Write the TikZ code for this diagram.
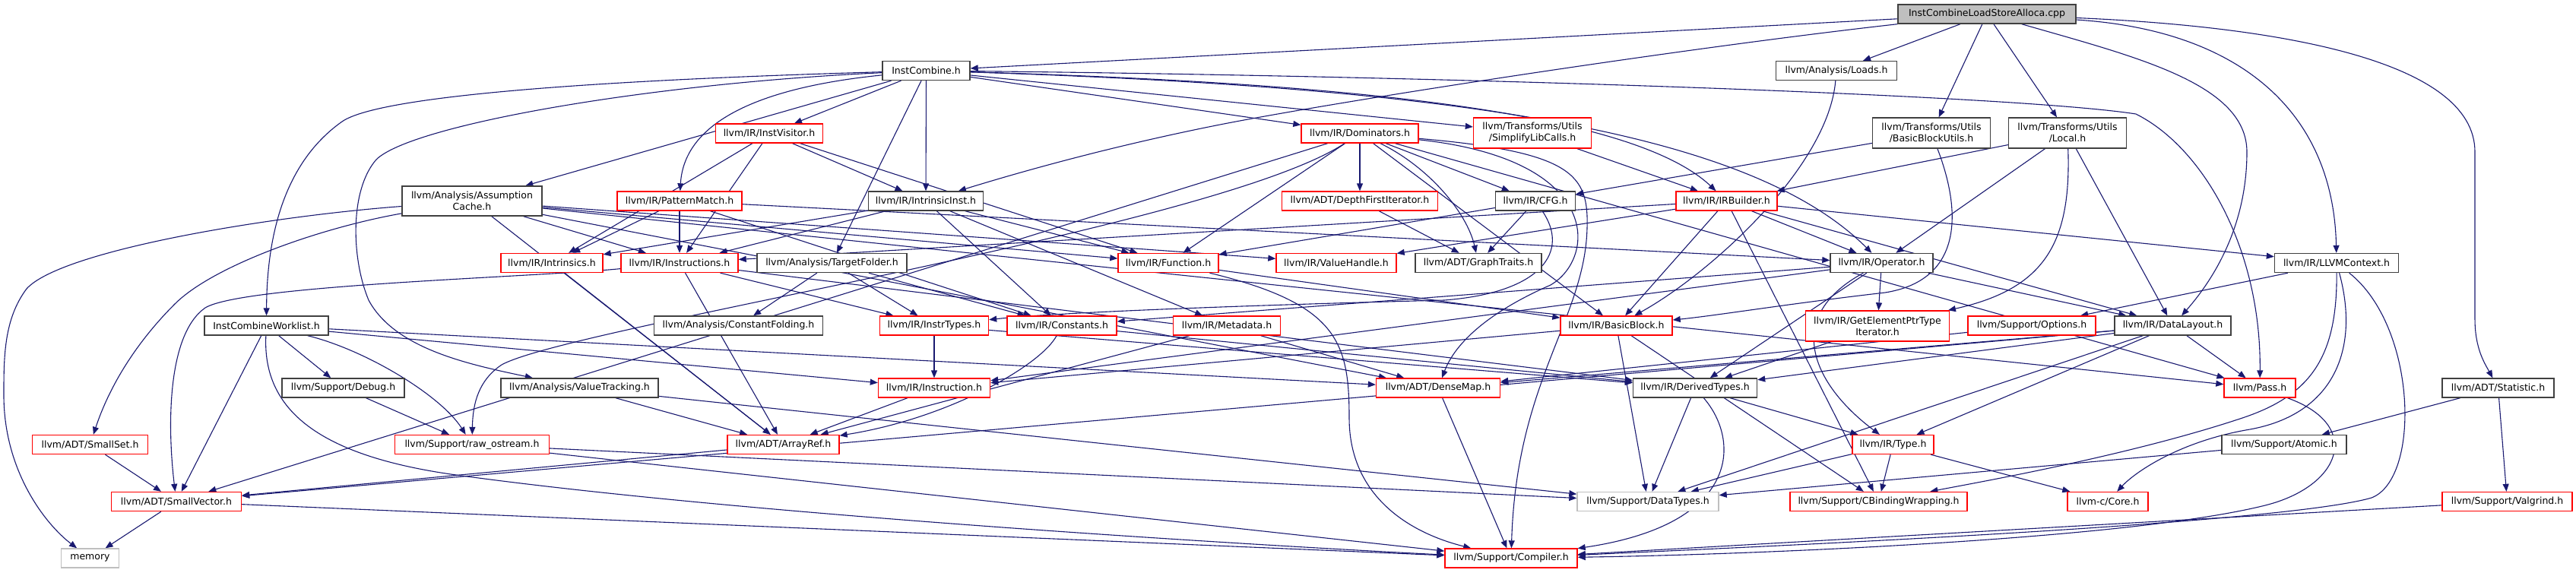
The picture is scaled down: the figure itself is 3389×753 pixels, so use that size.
\documentclass[tikz,border=0pt]{standalone}
\usepackage{fontspec}
\setmainfont{DejaVu Sans}
\usetikzlibrary{arrows.meta}
\definecolor{edgec}{HTML}{191970}
\definecolor{rd}{HTML}{FF0000}
\definecolor{blk}{HTML}{404040}
\definecolor{gry}{HTML}{BFBFBF}
\newcommand\nfont{\fontsize{12.5pt}{15pt}\selectfont}
\pgfdeclarelayer{bg}
\pgfsetlayers{bg,main}
\begin{document}
\begin{tikzpicture}[x=1pt,y=-1pt,
 nb/.style={draw=blk, line width=1.4pt, fill=white, minimum height=25pt, inner sep=0pt, font=\nfont},
 nr/.style={nb, draw=rd},
 ng/.style={nb, draw=gry},
 two/.style={minimum height=40pt, align=center},
 e/.style={draw=edgec, line width=1.1pt, -{Triangle[length=10pt,width=8pt]}}]
\useasboundingbox (0,0) rectangle (3389,753);
% row 0
\node[nb,fill=gry,minimum width=234pt] (root) at (2614,18.5) {InstCombineLoadStoreAlloca.cpp};
% row 1
\node[nb,minimum width=115pt] (ic) at (1218.5,93) {InstCombine.h};
\node[nb,minimum width=159pt] (loads) at (2416,93) {llvm/Analysis/Loads.h};
% row 2
\node[nr,minimum width=141pt] (iv) at (1012,175.5) {llvm/IR/InstVisitor.h};
\node[nr,minimum width=154pt] (dom) at (1789,175.5) {llvm/IR/Dominators.h};
\node[nr,two,minimum width=155pt] (slc) at (2016,175) {llvm/Transforms/Utils\\/SimplifyLibCalls.h};
\node[nb,two,minimum width=155pt] (bbu) at (2541,175) {llvm/Transforms/Utils\\/BasicBlockUtils.h};
\node[nb,two,minimum width=155pt] (local) at (2720,175) {llvm/Transforms/Utils\\/Local.h};
% row 3
\node[nb,two,minimum width=184pt,minimum height=39pt] (ac) at (621,264.5) {llvm/Analysis/Assumption\\Cache.h};
\node[nr,minimum width=164pt] (pm) at (894,264.5) {llvm/IR/PatternMatch.h};
\node[nb,minimum width=151pt] (ii) at (1218,264.5) {llvm/IR/IntrinsicInst.h};
\node[nr,minimum width=205pt] (dfi) at (1789,264.5) {llvm/ADT/DepthFirstIterator.h};
\node[nb,minimum width=105pt] (cfg) at (2020,264.5) {llvm/IR/CFG.h};
\node[nr,minimum width=133pt] (irb) at (2271.5,264.5) {llvm/IR/IRBuilder.h};
% row 4
\node[nr,minimum width=134pt] (intr) at (726,346) {llvm/IR/Intrinsics.h};
\node[nr,minimum width=154pt] (insts) at (894,346) {llvm/IR/Instructions.h};
\node[nb,minimum width=197pt] (tf) at (1094.5,346) {llvm/Analysis/TargetFolder.h};
\node[nr,minimum width=132pt] (func) at (1537,346) {llvm/IR/Function.h};
\node[nr,minimum width=158pt] (vh) at (1758,346) {llvm/IR/ValueHandle.h};
\node[nb,minimum width=166pt] (gt) at (1945,346) {llvm/ADT/GraphTraits.h};
\node[nb,minimum width=135pt] (op) at (2475.5,346) {llvm/IR/Operator.h};
\node[nb,minimum width=163pt] (ctx) at (3074,346) {llvm/IR/LLVMContext.h};
% row 5
\node[nb,minimum width=163pt] (icw) at (350.5,428.5) {InstCombineWorklist.h};
\node[nb,minimum width=222pt] (cf) at (971.5,428.5) {llvm/Analysis/ConstantFolding.h};
\node[nr,minimum width=143pt] (it) at (1229,428.5) {llvm/IR/InstrTypes.h};
\node[nr,minimum width=144pt] (const) at (1397,428.5) {llvm/IR/Constants.h};
\node[nr,minimum width=141pt] (md) at (1614,428.5) {llvm/IR/Metadata.h};
\node[nr,minimum width=147pt] (bb) at (2126.5,428.5) {llvm/IR/BasicBlock.h};
\node[nr,two,minimum width=189pt] (gep) at (2470,429) {llvm/IR/GetElementPtrType\\Iterator.h};
\node[nr,minimum width=168pt] (opt) at (2673,428.5) {llvm/Support/Options.h};
\node[nb,minimum width=153pt] (dl) at (2858.5,428.5) {llvm/IR/DataLayout.h};
% row 6
\node[nb,minimum width=161pt] (dbg) at (451.5,510.5) {llvm/Support/Debug.h};
\node[nb,minimum width=207pt] (vt) at (762.5,510.5) {llvm/Analysis/ValueTracking.h};
\node[nr,minimum width=147pt] (inst) at (1229,510.5) {llvm/IR/Instruction.h};
\node[nr,minimum width=163pt] (dm) at (1892,510.5) {llvm/ADT/DenseMap.h};
\node[nb,minimum width=163pt] (dt) at (2230,510.5) {llvm/IR/DerivedTypes.h};
\node[nr,minimum width=94pt] (pass) at (2973,510.5) {llvm/Pass.h};
\node[nb,minimum width=147pt] (stat) at (3286.5,510.5) {llvm/ADT/Statistic.h};
% row 7
\node[nr,minimum width=152pt] (sset) at (118.5,585) {llvm/ADT/SmallSet.h};
\node[nr,minimum width=203pt] (ros) at (621,585) {llvm/Support/raw\_ostream.h};
\node[nr,minimum width=147pt] (aref) at (1030.5,585) {llvm/ADT/ArrayRef.h};
\node[nr,minimum width=107pt] (type) at (2490.5,585) {llvm/IR/Type.h};
\node[nb,minimum width=164pt] (atom) at (3005,585) {llvm/Support/Atomic.h};
% row 8
\node[nr,minimum width=171pt] (svec) at (232,660) {llvm/ADT/SmallVector.h};
\node[ng,minimum width=186pt] (dty) at (2168,660) {llvm/Support/DataTypes.h};
\node[nr,minimum width=233pt] (cbw) at (2471.5,660) {llvm/Support/CBindingWrapping.h};
\node[nr,minimum width=106pt] (core) at (2773,660) {llvm-c/Core.h};
\node[nr,minimum width=171pt] (valg) at (3298.5,660) {llvm/Support/Valgrind.h};
% row 9
\node[ng,minimum width=76pt] (mem) at (118.5,734.5) {memory};
\node[nr,minimum width=174pt] (comp) at (1988,734.5) {llvm/Support/Compiler.h};

\begin{pgfonlayer}{bg}
% root
\draw[e] (root) -- (ic);
\draw[e] (root) .. controls (2200,65) and (1750,135) .. (1600,165) .. controls (1450,195) and (1330,230) .. (ii);
\draw[e] (root) -- (loads);
\draw[e] (root) -- (bbu);
\draw[e] (root) -- (local);
\draw[e] (root) .. controls (2810,75) and (2956,110) .. (2956,200) .. controls (2956,300) and (2910,370) .. (dl);
\draw[e] (root) .. controls (2950,40) and (3070,150) .. (ctx);
\draw[e] (root) .. controls (3000,35) and (3256,80) .. (3256,200) -- (3256,420) .. controls (3256,460) and (3270,480) .. (stat);
% InstCombine
\draw[e] (ic) .. controls (800,105) and (500,125) .. (450,160) .. controls (365,220) and (351,330) .. (icw);
\draw[e] (ic) .. controls (850,110) and (540,165) .. (495,210) .. controls (460,250) and (462,340) .. (485,395) .. controls (520,460) and (620,480) .. (vt);
\draw[e] (ic) -- (ac);
\draw[e] (ic) .. controls (1000,115) and (900,160) .. (pm);
\draw[e] (ic) -- (iv);
\draw[e] (ic) -- (tf);
\draw[e] (ic) -- (ii);
\draw[e] (ic) -- (dom);
\draw[e] (ic) -- (slc);
\draw[e] (ic) .. controls (1800,110) and (2150,150) .. (irb);
\draw[e] (ic) .. controls (1900,115) and (2300,170) .. (op);
\draw[e] (ic) .. controls (1900,100) and (2650,125) .. (2810,150) .. controls (2900,195) and (2975,330) .. (pass);
% Loads
\draw[e] (loads) .. controls (2405,220) and (2250,360) .. (bb);
% InstVisitor
\draw[e] (iv) -- (intr);
\draw[e] (iv) -- (insts);
\draw[e] (iv) -- (ii);
\draw[e] (iv) -- (func);
% Dominators
\draw[e] (dom) -- (dfi);
\draw[e] (dom) -- (cfg);
\draw[e] (dom) .. controls (1880,220) and (1930,280) .. (gt);
\draw[e] (dom) -- (func);
\draw[e] (dom) -- (bb);
\draw[e] (dom) .. controls (2110,210) and (2100,340) .. (2040,375) .. controls (1960,410) and (1915,450) .. (dm);
\draw[e] (dom) .. controls (2070,200) and (2090,230) .. (2088,300) .. controls (2085,420) and (1995,500) .. (comp);
\draw[e] (dom) .. controls (1600,300) and (750,430) .. (660,480) .. controls (630,500) and (622,530) .. (ros);
\draw[e] (dom) -- (svec);
\draw[e] (dom) -- (pass);
% SimplifyLibCalls, BasicBlockUtils, Local
\draw[e] (slc) -- (irb);
\draw[e] (bbu) -- (cfg);
\draw[e] (bbu) .. controls (2585,290) and (2575,370) .. (2480,385) .. controls (2350,400) and (2260,415) .. (bb);
\draw[e] (local) -- (irb);
\draw[e] (local) -- (op);
\draw[e] (local) .. controls (2725,320) and (2690,380) .. (gep);
\draw[e] (local) -- (dl);
% AssumptionCache
\draw[e] (ac) .. controls (350,285) and (80,330) .. (35,380) .. controls (5,420) and (5,470) .. (5,520) .. controls (5,620) and (60,690) .. (mem);
\draw[e] (ac) .. controls (420,300) and (280,350) .. (230,400) .. controls (170,460) and (140,520) .. (sset);
\draw[e] (ac) -- (insts);
\draw[e] (ac) -- (aref);
\draw[e] (ac) -- (dm);
\draw[e] (ac) -- (func);
\draw[e] (ac) -- (vh);
\draw[e] (ac) -- (pass);
% PatternMatch
\draw[e] (pm) -- (intr);
\draw[e] (pm) -- (insts);
\draw[e] (pm) -- (const);
\draw[e] (pm) -- (op);
% IntrinsicInst
\draw[e] (ii) -- (intr);
\draw[e] (ii) -- (insts);
\draw[e] (ii) -- (func);
\draw[e] (ii) -- (const);
\draw[e] (ii) -- (md);
% DepthFirstIterator, CFG
\draw[e] (dfi) -- (gt);
\draw[e] (cfg) -- (func);
\draw[e] (cfg) -- (gt);
\draw[e] (cfg) .. controls (2065,330) and (2030,385) .. (1900,395) .. controls (1700,400) and (1400,410) .. (it);
% IRBuilder
\draw[e] (irb) -- (insts);
\draw[e] (irb) -- (vh);
\draw[e] (irb) -- (bb);
\draw[e] (irb) -- (op);
\draw[e] (irb) -- (dl);
\draw[e] (irb) -- (ctx);
\draw[e] (irb) -- (cbw);
% Intrinsics, Instructions
\draw[e] (intr) -- (aref);
\draw[e] (insts) .. controls (700,365) and (320,375) .. (270,405) .. controls (220,440) and (220,560) .. (svec);
\draw[e] (insts) -- (it);
\draw[e] (insts) -- (aref);
\draw[e] (insts) -- (dt);
% TargetFolder
\draw[e] (tf) -- (cf);
\draw[e] (tf) -- (const);
\draw[e] (tf) -- (it);
% Function
\draw[e] (func) -- (bb);
\draw[e] (func) .. controls (1760,400) and (1775,450) .. (1775,550) .. controls (1775,650) and (1850,700) .. (comp);
% Operator
\draw[e] (op) -- (const);
\draw[e] (op) -- (inst);
\draw[e] (op) -- (gep);
\draw[e] (op) -- (dl);
\draw[e] (op) -- (dt);
\draw[e] (op) .. controls (2340,420) and (2390,510) .. (type);
% LLVMContext
\draw[e] (ctx) -- (opt);
\draw[e] (ctx) .. controls (3180,430) and (3185,630) .. (3120,655) .. controls (3000,690) and (2300,720) .. (comp);
\draw[e] (ctx) .. controls (3075,470) and (3040,520) .. (2950,550) .. controls (2800,600) and (2600,635) .. (cbw);
\draw[e] (ctx) .. controls (3105,460) and (3070,545) .. (2960,565) .. controls (2870,580) and (2810,620) .. (core);
% InstCombineWorklist
\draw[e] (icw) -- (dm);
\draw[e] (icw) -- (svec);
\draw[e] (icw) -- (inst);
\draw[e] (icw) .. controls (345,540) and (420,600) .. (600,625) .. controls (1000,680) and (1700,720) .. (comp);
\draw[e] (icw) -- (dbg);
\draw[e] (icw) .. controls (480,460) and (580,520) .. (ros);
% InstrTypes, Constants, Metadata
\draw[e] (it) -- (inst);
\draw[e] (it) -- (dt);
\draw[e] (const) .. controls (1370,480) and (1250,550) .. (aref);
\draw[e] (const) -- (dt);
\draw[e] (md) -- (aref);
\draw[e] (md) -- (dm);
% BasicBlock, GEP, Options
\draw[e] (bb) -- (inst);
\draw[e] (bb) -- (dty);
\draw[e] (bb) -- (cbw);
\draw[e] (gep) -- (dt);
\draw[e] (opt) -- (dm);
% DataLayout
\draw[e] (dl) -- (dm);
\draw[e] (dl) -- (svec);
\draw[e] (dl) -- (dt);
\draw[e] (dl) -- (type);
\draw[e] (dl) -- (pass);
\draw[e] (dl) -- (dty);
% row 6 sources
\draw[e] (dbg) -- (ros);
\draw[e] (vt) -- (aref);
\draw[e] (vt) -- (dty);
\draw[e] (inst) -- (aref);
\draw[e] (dm) -- (comp);
\draw[e] (dt) -- (type);
\draw[e] (dt) -- (dty);
\draw[e] (dt) .. controls (2290,580) and (2290,690) .. (comp);
\draw[e] (pass) .. controls (3110,560) and (3080,640) .. (2980,665) .. controls (2800,710) and (2300,730) .. (comp);
\draw[e] (stat) -- (atom);
\draw[e] (stat) -- (valg);
% row 7 sources
\draw[e] (sset) -- (svec);
\draw[e] (ros) -- (comp);
\draw[e] (ros) -- (dty);
\draw[e] (aref) -- (svec);
\draw[e] (type) -- (dty);
\draw[e] (type) -- (cbw);
\draw[e] (type) -- (core);
\draw[e] (atom) -- (dty);
% row 8 sources
\draw[e] (svec) -- (mem);
\draw[e] (svec) -- (comp);
\draw[e] (valg) -- (comp);
\end{pgfonlayer}
\end{tikzpicture}
\end{document}
